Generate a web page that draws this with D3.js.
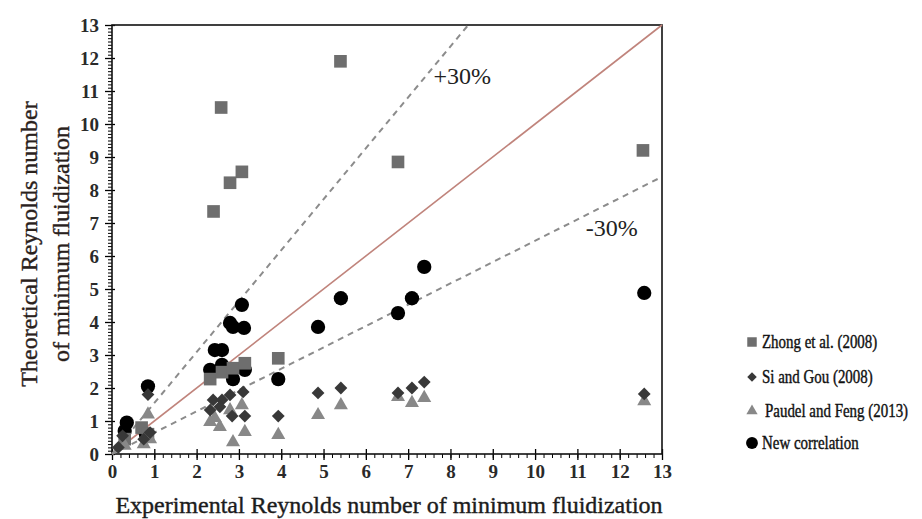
<!DOCTYPE html>
<html>
<head>
<meta charset="utf-8">
<script src="https://cdn.jsdelivr.net/npm/d3@7"></script>
<style>
	body { margin: 0; background: #fff; }
	svg { display: block; }
</style>
</head>
<body>
<div id="chart"></div>
<script>
(function () {
	// data
	var zhong = [[5.4, 11.9], [2.58, 10.5], [3.07, 8.55], [2.79, 8.22], [6.76, 8.85], [2.4, 7.35],
		[12.55, 9.2], [3.93, 2.9], [2.32, 2.27], [2.6, 2.48], [2.86, 2.6], [3.14, 2.75],
		[0.7, 0.8], [0.85, 0.6], [0.3, 0.45]];
	var siGou = [[4.87, 1.85], [5.41, 2.0], [6.76, 1.85], [7.09, 2.0], [7.38, 2.18], [12.58, 1.82],
		[3.93, 1.15], [0.85, 1.8], [2.39, 1.64], [2.6, 1.64], [2.79, 1.79], [3.1, 1.88],
		[2.32, 1.33], [2.55, 1.43], [2.84, 1.15], [3.14, 1.15],
		[0.25, 0.55], [0.15, 0.2], [0.75, 0.45], [0.9, 0.65]];
	var paudel = [[4.87, 1.18], [5.41, 1.48], [6.76, 1.73], [7.09, 1.55], [7.38, 1.7], [12.58, 1.6],
		[0.85, 1.2], [2.32, 0.97], [2.55, 0.82], [2.79, 1.33], [3.07, 1.48], [2.86, 0.36],
		[3.14, 0.67], [3.93, 0.58], [2.43, 1.09], [0.3, 0.25], [0.75, 0.3], [0.9, 0.45]];
	var newCorr = [[4.87, 3.85], [5.41, 4.72], [6.76, 4.27], [7.09, 4.72], [7.38, 5.67], [12.58, 4.88],
		[3.07, 4.52], [2.79, 3.97], [2.86, 3.85], [3.12, 3.82], [2.43, 3.15], [2.6, 3.15],
		[2.32, 2.55], [2.6, 2.7], [2.86, 2.27], [3.14, 2.55], [3.93, 2.27],
		[0.85, 2.05], [0.35, 0.95], [0.3, 0.7], [0.8, 0.6]];
	var parity = [[0, 0], [13, 13]];
	var upperBand = [[0, 0], [8.42, 13]];
	var lowerBand = [[0, 0], [13, 8.4]];
	var xTicks = d3.range(0, 14);
	var yTicks = d3.range(0, 14);
	var legendNames = ['Zhong et al. (2008)', 'Si and Gou (2008)', 'Paudel and Feng (2013)', 'New correlation'];

	var width = 922, height = 519;
	var margin = { top: 25, right: 260, bottom: 65, left: 112 };
	var serif = '"Liberation Serif", "Times New Roman", serif';
	var ink = '#1c1c1c';

	var svg = d3.select('#chart').append('svg')
		.attr('width', width).attr('height', height);

	var x = d3.scaleLinear().domain([0, 13]).range([margin.left, width - margin.right]);
	var y = d3.scaleLinear().domain([0, 13]).range([height - margin.bottom, margin.top]);

	var line = d3.line().x(d => x(d[0])).y(d => y(d[1]));

	// square turned 45 degrees, like the spreadsheet diamond marker
	var squareDiamond = {
		draw: function(context, size) {
			var r = Math.sqrt(size) / Math.SQRT2;
			context.moveTo(0, -r);
			context.lineTo(r, 0);
			context.lineTo(0, r);
			context.lineTo(-r, 0);
			context.closePath();
		}
	};

	///////////////////////////////////////////////////////////////////////////
	////////// axes ///////////////////////////////////////////////////////////
	///////////////////////////////////////////////////////////////////////////

	// minor ticks
	svg.append('g')
		.attr('transform', 'translate(0,' + y(0) + ')')
		.call(d3.axisBottom(x).tickValues(d3.range(0, 13.01, 0.2)).tickSize(4).tickFormat(''))
		.call(g => g.select('.domain').remove());
	svg.append('g')
		.attr('transform', 'translate(' + x(0) + ',0)')
		.call(d3.axisLeft(y).tickValues(d3.range(0, 13.01, 0.1)).tickSize(4).tickFormat(''))
		.call(g => g.select('.domain').remove());

	// major ticks (cross the axis)
	svg.append('g')
		.attr('transform', 'translate(0,' + y(0) + ')')
		.call(d3.axisBottom(x).tickValues(xTicks).tickSize(6).tickPadding(5))
		.call(g => g.select('.domain').remove())
		.call(g => g.selectAll('.tick line').attr('y1', -5).attr('stroke-width', 1.3))
		.call(g => g.selectAll('.tick text')
			.attr('font-family', serif).attr('font-size', 19).attr('font-weight', 'bold').attr('fill', '#2a2a2a'));
	svg.append('g')
		.attr('transform', 'translate(' + x(0) + ',0)')
		.call(d3.axisLeft(y).tickValues(yTicks).tickSize(7).tickPadding(6))
		.call(g => g.select('.domain').remove())
		.call(g => g.selectAll('.tick line').attr('x1', 3).attr('stroke-width', 1.3))
		.call(g => g.selectAll('.tick text')
			.attr('font-family', serif).attr('font-size', 19).attr('font-weight', 'bold').attr('fill', '#2a2a2a'));

	// frame
	svg.append('rect')
		.attr('x', x(0)).attr('y', y(13))
		.attr('width', x(13) - x(0)).attr('height', y(0) - y(13))
		.attr('fill', 'none').attr('stroke', '#111').attr('stroke-width', 1.6);

	// axis titles
	svg.append('text')
		.attr('x', (x(0) + x(13)) / 2 + 2).attr('y', 513)
		.attr('text-anchor', 'middle')
		.attr('font-family', serif).attr('font-size', 24)
		.attr('fill', ink).attr('stroke', ink).attr('stroke-width', 0.4)
		.text('Experimental Reynolds number of minimum fluidization');
	var yTitle = svg.append('text')
		.attr('transform', 'translate(0,' + 244 + ') rotate(-90)')
		.attr('text-anchor', 'middle')
		.attr('font-family', serif).attr('font-size', 24)
		.attr('fill', '#2a211c').attr('stroke', '#2a211c').attr('stroke-width', 0.4);
	yTitle.append('tspan').attr('x', 0).attr('y', 37).text('Theoretical Reynolds number');
	yTitle.append('tspan').attr('x', 0).attr('y', 69).text('of minimum fluidization');

	///////////////////////////////////////////////////////////////////////////
	////////// reference lines ////////////////////////////////////////////////
	///////////////////////////////////////////////////////////////////////////

	svg.append('path').datum(parity)
		.attr('d', line).attr('fill', 'none')
		.attr('stroke', '#c0847c').attr('stroke-width', 1.6);
	[upperBand, lowerBand].forEach(band => {
		svg.append('path').datum(band)
			.attr('d', line).attr('fill', 'none')
			.attr('stroke', '#8c8c8c').attr('stroke-width', 2)
			.attr('stroke-dasharray', '6,5');
	});

	svg.append('text')
		.attr('x', x(7.6)).attr('y', y(11.2))
		.attr('font-family', serif).attr('font-size', 24).attr('fill', '#222')
		.text('+30%');
	svg.append('text')
		.attr('x', x(11.2)).attr('y', y(6.6))
		.attr('font-family', serif).attr('font-size', 24).attr('fill', '#222')
		.text('-30%');

	///////////////////////////////////////////////////////////////////////////
	////////// points /////////////////////////////////////////////////////////
	///////////////////////////////////////////////////////////////////////////

	var series = [
		{ data: newCorr, shape: d3.symbolCircle, size: 160, fill: '#000' },
		{ data: zhong, shape: d3.symbolSquare, size: 160, fill: '#6e6e6e' },
		{ data: paudel, shape: d3.symbolTriangle, size: 85, fill: '#888888' },
		{ data: siGou, shape: squareDiamond, size: 82, fill: '#383838' }
	];
	series.forEach(s => {
		var sym = d3.symbol().type(s.shape).size(s.size);
		svg.append('g').selectAll('path')
			.data(s.data)
			.enter().append('path')
			.attr('transform', d => 'translate(' + [x(d[0]), y(d[1])] + ')')
			.attr('d', sym)
			.attr('fill', s.fill);
	});

	///////////////////////////////////////////////////////////////////////////
	////////// legend /////////////////////////////////////////////////////////
	///////////////////////////////////////////////////////////////////////////

	var legendMarks = [
		{ shape: d3.symbolSquare, size: 90, fill: '#6e6e6e' },
		{ shape: squareDiamond, size: 45, fill: '#383838' },
		{ shape: d3.symbolTriangle, size: 55, fill: '#888888' },
		{ shape: d3.symbolCircle, size: 110, fill: '#000' }
	];
	var legendY = [342, 377, 411, 443];
	var legend = svg.append('g').selectAll('g')
		.data(legendNames)
		.enter().append('g')
		.attr('transform', (d, i) => 'translate(' + [752, legendY[i]] + ')');
	legend.append('path')
		.attr('d', (d, i) => d3.symbol().type(legendMarks[i].shape).size(legendMarks[i].size)())
		.attr('fill', (d, i) => legendMarks[i].fill);
	legend.append('text')
		.attr('transform', (d, i) => 'translate(' + (i === 2 ? 13 : 10) + ',0) scale(0.83,1)')
		.attr('dy', '0.35em')
		.attr('font-family', serif).attr('font-size', 18)
		.attr('fill', '#111').attr('stroke', '#111').attr('stroke-width', 0.4)
		.text(d => d);
})();
</script>
</body>
</html>
